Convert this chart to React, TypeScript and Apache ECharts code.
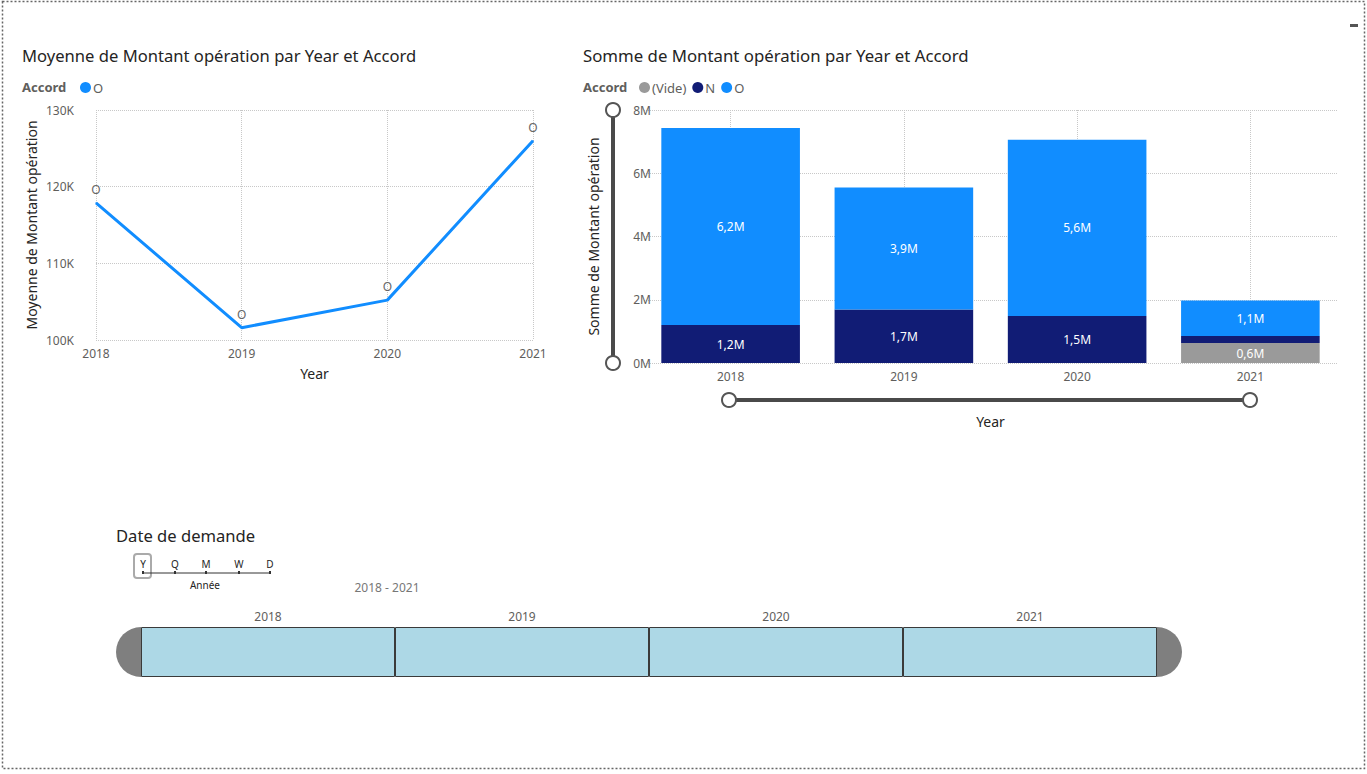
import React, { useEffect, useRef } from "react";
import * as echarts from "echarts";

const years = ["2018", "2019", "2020", "2021"];
const avgO = [117900, 101600, 105200, 126000];
const sumVide = [null, null, null, 630000];
const sumN = [1200000, 1690000, 1490000, 220000];
const sumO = [6230000, 3860000, 5570000, 1130000];
const nLabelShown = [true, true, true, false];
const timelineSpan = [1, 1, 1, 1];
const granularity = ["Y", "Q", "M", "W", "D"];

const FONT = "'Noto Sans', 'Open Sans', sans-serif";
const TITLE_FONT = "'Noto Sans', sans-serif";
const BLUE = "#118DFF";
const NAVY = "#111C75";
const GREY = "#9A9A9A";
const DOT = { type: "dotted", color: "#C8C8C8", width: 1 };

const mFmt = (v: number) => (v / 1e6).toFixed(1).replace(".", ",") + "M";

export default function App() {
  const ref = useRef<HTMLDivElement>(null);
  useEffect(() => {
    const chart = echarts.init(ref.current!, undefined, { renderer: "svg" });
    const granX = [143, 175, 206, 239, 270];
    const graphic: any[] = [
      {
        type: "rect",
        shape: { x: 2.5, y: 1.5, width: 1362, height: 767 },
        style: { fill: "none", stroke: "#666", lineWidth: 1.5, lineDash: [2, 2] },
        silent: true,
      },
      { type: "rect", shape: { x: 1350, y: 24, width: 8, height: 3 }, style: { fill: "#555" } },
      // titles
      { type: "text", x: 22, y: 55, style: { text: "Moyenne de Montant opération par Year et Accord", font: `16.6px ${TITLE_FONT}`, fill: "#252423", verticalAlign: "middle" } },
      { type: "text", x: 583, y: 55, style: { text: "Somme de Montant opération par Year et Accord", font: `16.8px ${TITLE_FONT}`, fill: "#252423", verticalAlign: "middle" } },
      { type: "text", x: 22, y: 87, style: { text: "Accord", font: `bold 13px ${FONT}`, fill: "#605E5C", verticalAlign: "middle" } },
      { type: "text", x: 583, y: 87, style: { text: "Accord", font: `bold 13px ${FONT}`, fill: "#605E5C", verticalAlign: "middle" } },
      // vertical zoom slider
      { type: "line", shape: { x1: 613, y1: 110, x2: 613, y2: 363 }, style: { stroke: "#4A4A4A", lineWidth: 4 } },
      { type: "circle", shape: { cx: 613, cy: 110, r: 7 }, style: { fill: "#fff", stroke: "#555", lineWidth: 2 } },
      { type: "circle", shape: { cx: 613, cy: 363, r: 7 }, style: { fill: "#fff", stroke: "#555", lineWidth: 2 } },
      // horizontal zoom slider
      { type: "line", shape: { x1: 729, y1: 400, x2: 1250, y2: 400 }, style: { stroke: "#4A4A4A", lineWidth: 4 } },
      { type: "circle", shape: { cx: 729, cy: 400, r: 7 }, style: { fill: "#fff", stroke: "#555", lineWidth: 2 } },
      { type: "circle", shape: { cx: 1250, cy: 400, r: 7 }, style: { fill: "#fff", stroke: "#555", lineWidth: 2 } },
      // timeline slicer
      { type: "text", x: 116, y: 535, style: { text: "Date de demande", font: `16.6px ${TITLE_FONT}`, fill: "#252423", verticalAlign: "middle" } },
      { type: "rect", shape: { x: 134, y: 554, width: 17, height: 24, r: 3 }, style: { fill: "none", stroke: "#AAA", lineWidth: 2 } },
      { type: "line", shape: { x1: 142, y1: 573, x2: 271, y2: 573 }, style: { stroke: "#333", lineWidth: 1 } },
      ...granularity.map((g, i) => ({
        type: "text", x: granX[i], y: 564,
        style: { text: g, font: `10px ${FONT}`, fill: "#252423", align: "center", verticalAlign: "middle" },
      })),
      ...granX.map((x) => ({ type: "rect", shape: { x: x - 1, y: 571, width: 2, height: 3 }, style: { fill: "#333" } })),
      { type: "text", x: 205, y: 585, style: { text: "Année", font: `10px ${FONT}`, fill: "#252423", align: "center", verticalAlign: "middle" } },
      { type: "text", x: 387, y: 587, style: { text: "2018 - 2021", font: `12px ${FONT}`, fill: "#777", align: "center", verticalAlign: "middle" } },
      { type: "sector", shape: { cx: 141, cy: 652, r: 25, r0: 0, startAngle: Math.PI / 2, endAngle: (3 * Math.PI) / 2, clockwise: true }, style: { fill: "#7F7F7F" } },
      { type: "sector", shape: { cx: 1157, cy: 652, r: 25, r0: 0, startAngle: -Math.PI / 2, endAngle: Math.PI / 2, clockwise: true }, style: { fill: "#7F7F7F" } },
    ];

    chart.setOption({
      animation: false,
      textStyle: { fontFamily: FONT },
      graphic,
      legend: [
        {
          left: 75, top: 76, icon: "circle", itemWidth: 11, itemHeight: 11, itemGap: 4,
          data: [{ name: "O", itemStyle: { color: BLUE } }],
          textStyle: { fontSize: 13, color: "#605E5C", padding: [0, 0, 0, -3] },
          selectedMode: false,
        },
        {
          left: 634, top: 76, icon: "circle", itemWidth: 11, itemHeight: 11, itemGap: 6,
          data: ["(Vide)", "N", { name: "O", itemStyle: { color: BLUE } }],
          textStyle: { fontSize: 13, color: "#605E5C", padding: [0, 0, 0, -3] },
          selectedMode: false,
        },
      ],
      grid: [
        { left: 96, right: 1367 - 533, top: 110, bottom: 774 - 340 },
        { left: 644, right: 1367 - 1337, top: 110, bottom: 774 - 363 },
        { left: 141, right: 1367 - 1157, top: 627, bottom: 774 - 677 },
      ],
      xAxis: [
        {
          gridIndex: 0, type: "category", data: years, boundaryGap: false,
          axisLine: { show: false }, axisTick: { show: false },
          axisLabel: { color: "#605E5C", fontSize: 12, margin: 7 },
          splitLine: { show: true, lineStyle: DOT },
          name: "Year", nameLocation: "middle", nameGap: 26,
          nameTextStyle: { fontSize: 14, color: "#252423" },
        },
        {
          gridIndex: 1, type: "category", data: years,
          axisLine: { show: false }, axisTick: { show: false },
          axisLabel: { color: "#605E5C", fontSize: 12, margin: 7 },
          splitLine: { show: true, alignWithLabel: true, lineStyle: DOT },
          name: "Year", nameLocation: "middle", nameGap: 51,
          nameTextStyle: { fontSize: 14, color: "#252423" },
        },
        {
          gridIndex: 2, type: "category", data: years, position: "top",
          axisLine: { show: false }, axisTick: { show: false },
          axisLabel: { color: "#605E5C", fontSize: 12, margin: 5 },
          splitLine: { show: false },
        },
      ],
      yAxis: [
        {
          gridIndex: 0, type: "value", min: 100000, max: 130000, interval: 10000,
          axisLine: { show: false }, axisTick: { show: false },
          axisLabel: { color: "#605E5C", fontSize: 12, margin: 22, formatter: (v: number) => v / 1000 + "K" },
          splitLine: { show: true, lineStyle: DOT },
          name: "Moyenne de Montant opération", nameLocation: "middle", nameGap: 58,
          nameTextStyle: { fontSize: 14, color: "#252423" },
        },
        {
          gridIndex: 1, type: "value", min: 0, max: 8000000, interval: 2000000,
          axisLine: { show: false }, axisTick: { show: false },
          axisLabel: { color: "#605E5C", fontSize: 12, margin: -7, formatter: (v: number) => v / 1e6 + "M" },
          splitLine: { show: true, lineStyle: DOT },
          name: "Somme de Montant opération", nameLocation: "middle", nameGap: 44,
          nameTextStyle: { fontSize: 14, color: "#252423" },
        },
        { gridIndex: 2, type: "value", min: 0, max: 1, show: false },
      ],
      series: [
        {
          name: "O", type: "line", xAxisIndex: 0, yAxisIndex: 0, data: avgO,
          symbol: "circle", symbolSize: 1,
          lineStyle: { color: BLUE, width: 3 }, itemStyle: { color: BLUE },
          label: { show: true, position: "top", distance: 7, formatter: () => "O", color: "#666", fontSize: 12 },
        },
        {
          name: "(Vide)", type: "bar", stack: "s", xAxisIndex: 1, yAxisIndex: 1, barCategoryGap: "20%",
          data: sumVide, itemStyle: { color: GREY },
          label: { show: true, position: "inside", color: "#fff", fontSize: 12, formatter: (p: any) => mFmt(p.value) },
        },
        {
          name: "N", type: "bar", stack: "s", xAxisIndex: 1, yAxisIndex: 1, barCategoryGap: "20%",
          data: sumN.map((v, i) => ({ value: v, label: { show: nLabelShown[i] } })),
          itemStyle: { color: NAVY },
          label: { show: true, position: "inside", color: "#fff", fontSize: 12, formatter: (p: any) => mFmt(p.value) },
        },
        {
          name: "O", type: "bar", stack: "s", xAxisIndex: 1, yAxisIndex: 1, barCategoryGap: "20%",
          data: sumO, itemStyle: { color: BLUE },
          label: { show: true, position: "inside", color: "#fff", fontSize: 12, formatter: (p: any) => mFmt(p.value) },
        },
        {
          name: "timeline", type: "bar", xAxisIndex: 2, yAxisIndex: 2, barCategoryGap: "0%",
          data: timelineSpan, silent: true,
          itemStyle: { color: "#ADD8E6", borderColor: "#3A3A3A", borderWidth: 1 },
        },
      ],
    });
    return () => chart.dispose();
  }, []);
  return (
    <div
      ref={ref}
      style={{ position: "fixed", left: 0, top: 0, width: 1367, height: 774, background: "#fff" }}
    />
  );
}
